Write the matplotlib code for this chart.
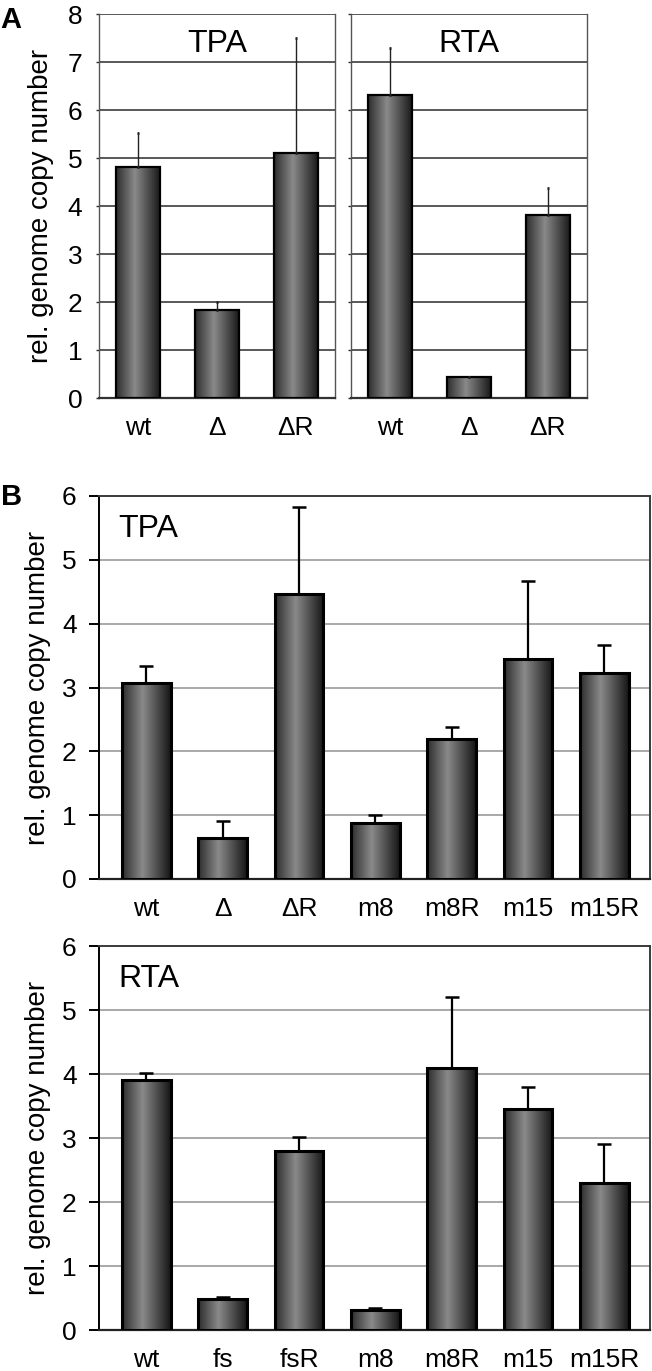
import numpy as np
import matplotlib
matplotlib.use("Agg")
import matplotlib.pyplot as plt
from matplotlib.colors import LinearSegmentedColormap

plt.rcParams['font.family'] = ['Liberation Sans', 'DejaVu Sans']

# ---------------- data ----------------
a_cats = ["wt", "Δ", "ΔR"]
a_tpa_vals = [4.81, 1.83, 5.10]
a_tpa_err = [0.71, 0.17, 2.40]
a_rta_vals = [6.32, 0.43, 3.81]
a_rta_err = [0.98, 0.0, 0.57]
a_yticks = [0, 1, 2, 3, 4, 5, 6, 7, 8]

b_tpa_cats = ["wt", "Δ", "ΔR", "m8", "m8R", "m15", "m15R"]
b_tpa_vals = [3.07, 0.64, 4.46, 0.88, 2.20, 3.44, 3.22]
b_tpa_err = [0.27, 0.27, 1.37, 0.12, 0.18, 1.23, 0.45]

b_rta_cats = ["wt", "fs", "fsR", "m8", "m8R", "m15", "m15R"]
b_rta_vals = [3.90, 0.49, 2.80, 0.32, 4.10, 3.45, 2.30]
b_rta_err = [0.11, 0.02, 0.21, 0.03, 1.10, 0.35, 0.60]
b_yticks = [0, 1, 2, 3, 4, 5, 6]

ylabel = "rel. genome copy number"

W, H = 652, 1371
fig = plt.figure(figsize=(W / 100, H / 100), dpi=100)

def ax_at(x0, y0, x1, y1):
    return fig.add_axes([x0 / W, 1 - y1 / H, (x1 - x0) / W, (y1 - y0) / H])

cmap = LinearSegmentedColormap.from_list(
    "bar", [(0, "#2c2c2c"), (0.42, "#8a8a8a"), (1, "#151515")])
grad = np.linspace(0, 1, 256).reshape(1, -1)

def gradient_bars(ax, vals, width, edge_lw):
    x = np.arange(len(vals))
    bars = ax.bar(x, vals, width=width, facecolor="none", edgecolor="black",
                  linewidth=edge_lw, zorder=4)
    for b in bars:
        x0, w, h = b.get_x(), b.get_width(), b.get_height()
        ax.imshow(grad, cmap=cmap, aspect="auto", extent=[x0, x0 + w, 0, h],
                  zorder=3, interpolation="bilinear")
    return x

def style_A(ax, cats, vals, errs, title, show_ylabels):
    x = gradient_bars(ax, vals, 0.56, 1.6)
    ax.errorbar(x, vals, yerr=[np.zeros(len(errs)), errs], fmt="none",
                ecolor="#222222", elinewidth=1.0, capsize=1.0, capthick=2.0, zorder=5)
    ax.set_xlim(-0.5, len(cats) - 0.5)
    ax.set_ylim(0, 8)
    ax.set_yticks(a_yticks)
    for v in a_yticks[1:]:
        ax.axhline(v, color="#3c3c3c", lw=1.2, zorder=1)
    ax.set_xticks(x)
    ax.set_xticklabels(cats, fontsize=19)
    ax.tick_params(axis="x", length=0, pad=13)
    ax.tick_params(axis="y", length=2, width=1, color="#333333", pad=10, labelsize=19)
    if not show_ylabels:
        ax.set_yticklabels([])
    for s in ["top"]:
        ax.spines[s].set_visible(False)
    ax.spines["left"].set_color("#555555")
    ax.spines["left"].set_linewidth(1.0)
    ax.spines["right"].set_color("#555555")
    ax.spines["right"].set_linewidth(1.0)
    ax.spines["bottom"].set_color("#333333")
    ax.spines["bottom"].set_linewidth(1.6)
    ax.text(np.mean(x), 7.21, title, ha="center", va="baseline", fontsize=23, zorder=6)

axA1 = ax_at(99, 14, 335, 398)
style_A(axA1, a_cats, a_tpa_vals, a_tpa_err, "TPA", True)
axA1.set_ylabel(ylabel, fontsize=20)
axA1.yaxis.set_label_coords(-0.19, 0.5)

axA2 = ax_at(351, 14, 587, 398)
style_A(axA2, a_cats, a_rta_vals, a_rta_err, "RTA", False)

def style_B(ax, cats, vals, errs, title):
    x = gradient_bars(ax, vals, 0.64, 2.2)
    ax.errorbar(x, vals, yerr=[np.zeros(len(errs)), errs], fmt="none",
                ecolor="black", elinewidth=1.6, capsize=4.7, capthick=1.8, zorder=5)
    ax.set_xlim(-0.625, len(cats) - 0.4)
    ax.set_ylim(0, 6)
    ax.set_yticks(b_yticks)
    for v in b_yticks[1:-1]:
        ax.axhline(v, color="#9a9a9a", lw=1.2, zorder=1)
    ax.set_xticks(x)
    ax.set_xticklabels(cats, fontsize=19)
    ax.tick_params(axis="x", length=0, pad=13)
    ax.tick_params(axis="y", length=7, width=1.4, color="black", pad=9, labelsize=19)
    ax.spines["top"].set_color("#3a3a3a")
    ax.spines["top"].set_linewidth(1.4)
    ax.spines["right"].set_color("#3a3a3a")
    ax.spines["right"].set_linewidth(1.4)
    ax.spines["left"].set_color("black")
    ax.spines["left"].set_linewidth(1.4)
    ax.spines["bottom"].set_color("#222222")
    ax.spines["bottom"].set_linewidth(1.6)
    ax.text(0.035, 0.892, title, transform=ax.transAxes, ha="left",
            va="baseline", fontsize=23, zorder=6)
    ax.set_ylabel(ylabel, fontsize=20)
    ax.yaxis.set_label_coords(-0.087, 0.5)

axB1 = ax_at(98.75, 496, 650, 879)
style_B(axB1, b_tpa_cats, b_tpa_vals, b_tpa_err, "TPA")

axB2 = ax_at(98.75, 946, 650, 1330)
style_B(axB2, b_rta_cats, b_rta_vals, b_rta_err, "RTA")

fig.text(0 / W, 1 - 28 / H, "A", fontsize=21, fontweight="bold", ha="left", va="baseline")
fig.text(1 / W, 1 - 505 / H, "B", fontsize=21, fontweight="bold", ha="left", va="baseline")

fig.savefig("out.png", dpi=100, facecolor="white")
